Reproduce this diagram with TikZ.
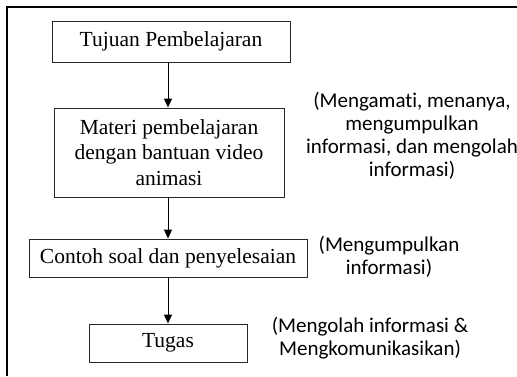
\documentclass[tikz,border=0pt]{standalone}
\usepackage{fontspec}
\setmainfont{Liberation Serif}
\newfontfamily\notefont[Ligatures=NoCommon]{Carlito}
\usetikzlibrary{arrows.meta}
\begin{document}
\begin{tikzpicture}[x=1pt,y=-1pt,
  stepbox/.style={draw=black!85,line width=0.9pt,inner sep=0pt,align=center,
    font=\fontsize{21.5}{25.5}\selectfont},
  note/.style={inner sep=0pt,align=center,font=\notefont\fontsize{21}{23}\selectfont},
  arr/.style={line width=0.9pt,-{Triangle[width=8pt,length=9pt]}},
  frame/.style={line width=1.8pt}]
\useasboundingbox (0,0) rectangle (517,376);
\coordinate (fa) at (517,7);
\coordinate (fb) at (7,7);
\coordinate (fc) at (7,376);
\draw[frame] (fa) -- (fb) -- (fc);
\node[stepbox,minimum width=238pt,minimum height=41pt] (b1) at (171,41.5) {Tujuan Pembelajaran};
\node[stepbox,minimum width=230pt,minimum height=89pt] (b2) at (169,152.5) {Materi pembelajaran\\dengan bantuan video\\animasi};
\node[stepbox,minimum width=278pt,minimum height=38pt] (b3) at (168,258) {Contoh soal dan penyelesaian};
\node[stepbox,minimum width=158pt,minimum height=38pt] (b4) at (168,343) {Tugas};
\draw[arr] (b1.south -| b3.center) -- (b2.north -| b3.center);
\draw[arr] (b2.south -| b3.center) -- (b3.north);
\draw[arr] (b3.south) -- (b4.north);
\node[note] (n1) at (412,135.5) {(Mengamati, menanya,\\mengumpulkan\\informasi, dan mengolah\\informasi)};
\node[note] (n2) at (389,256.5) {(Mengumpulkan\\informasi)};
\node[note] (n3) at (370,338) {(Mengolah informasi \&\\Mengkomunikasikan)};
\end{tikzpicture}
\end{document}
